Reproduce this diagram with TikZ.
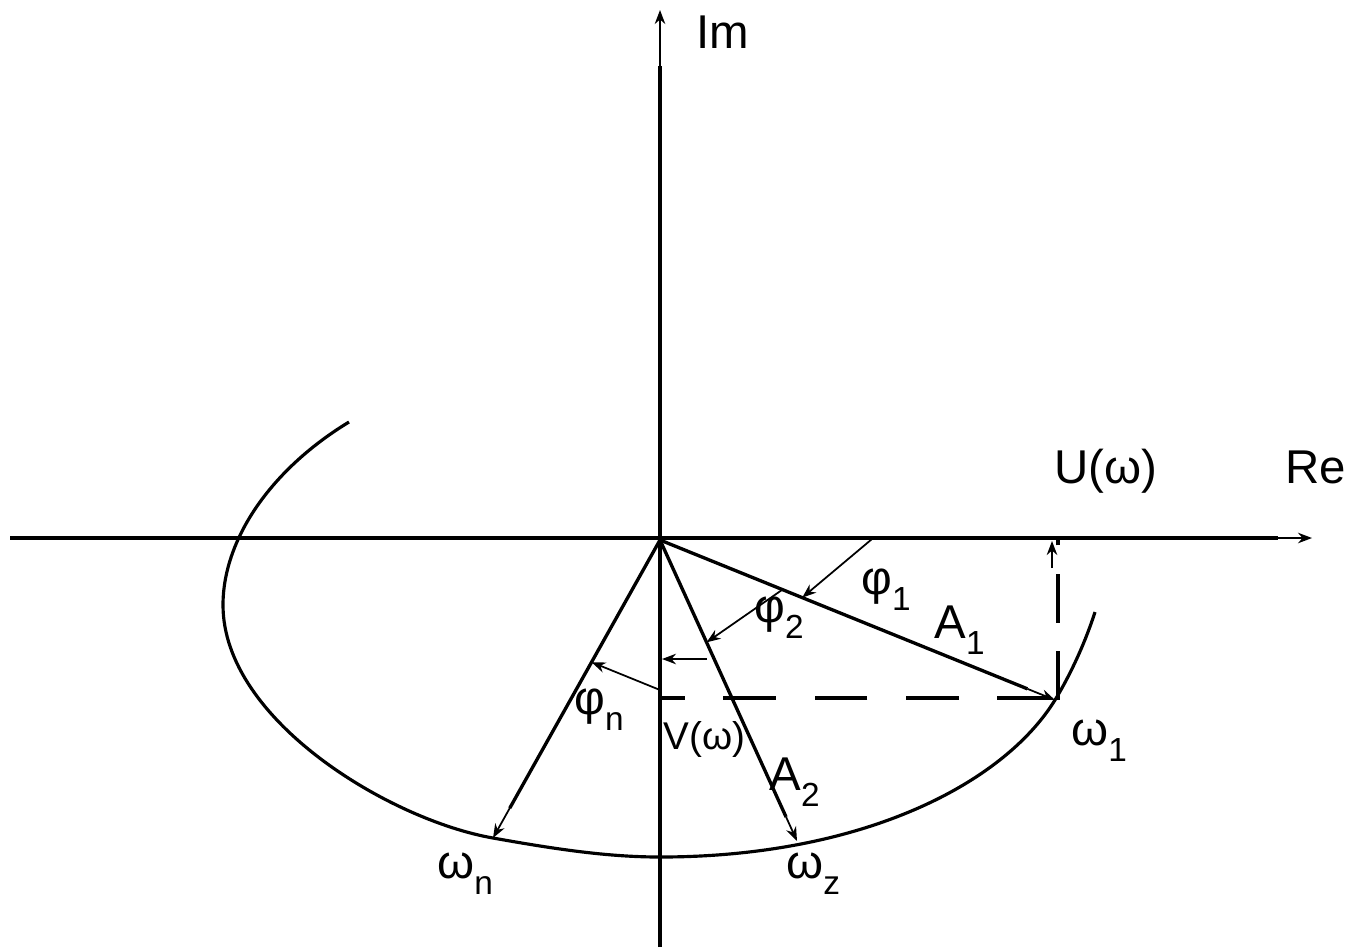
\documentclass[tikz,border=0pt]{standalone}
\usepackage{fontspec}
\setmainfont{Liberation Sans}
\usetikzlibrary{arrows.meta,calc}
\newcommand\lsub[1]{\raisebox{-9.5pt}{\fontsize{19}{19}\selectfont #1}}
\begin{document}
\begin{tikzpicture}[x=0.02cm,y=-0.02cm,
  axisline/.style={line width=2.4pt},
  thinarrow/.style={line width=1pt,-{Stealth[length=8pt,width=6pt]}},
  rayline/.style={line width=1.9pt},
  curveline/.style={line width=1.8pt},
  dashline/.style={line width=1.9pt,dash pattern=on 30pt off 22pt},
  dashline2/.style={line width=1.9pt,dash pattern=on 28pt off 16pt},
  lbl/.style={font=\fontsize{27}{27}\selectfont, inner sep=0pt, anchor=base west},
  smalllbl/.style={font=\fontsize{22}{22}\selectfont, inner sep=0pt, anchor=base west}]
\useasboundingbox (0,0) rectangle (1354,947);
% key points
\coordinate (O) at (660,540);
\coordinate (w1) at (1055,700);
\coordinate (wz) at (797,841);
\coordinate (wn) at (493,838);
% axes
\coordinate (xl) at (10,538);
\coordinate (xm) at (1278,538);
\coordinate (xr) at (1312,538);
\coordinate (yb) at (660,947);
\coordinate (ym) at (660,66);
\coordinate (yt) at (660,10);
\draw[axisline] (xl) -- (xm);
\draw[thinarrow] (xm) -- (xr);
\draw[axisline] (yb) -- (ym);
\draw[thinarrow] (ym) -- (yt);
% curve
\coordinate (cs) at (349,422);
\coordinate (cl) at (223,605);
\coordinate (cb) at (660,857);
\coordinate (ce) at (1095,612);
\draw[curveline] (cs) .. controls (270,470) and (223,540) .. (cl)
  .. controls (223,720) and (390,820) .. (wn)
  .. controls (560,850) and (610,857) .. (cb)
  .. controls (860,857) and (1002.5,785) .. (w1)
  .. controls (1072,672) and (1086,640) .. (ce);
% rays
\draw[rayline] (O) -- ($(O)!0.93!(w1)$) coordinate (w1s);
\draw[thinarrow] (w1s) -- (w1);
\draw[rayline] (O) -- ($(O)!0.92!(wz)$) coordinate (wzs);
\draw[thinarrow] (wzs) -- (wz);
\draw[rayline] (O) -- ($(O)!0.9!(wn)$) coordinate (wns);
\draw[thinarrow] (wns) -- (wn);
% dashed projections
\coordinate (vp) at (662,698);
\coordinate (w1h) at (1050,698);
\draw[dashline] (w1h) -- (vp);
\coordinate (w1v) at (1058,700);
\coordinate (up) at (1058,540);
\draw[dashline2] (w1v) -- (up);
\coordinate (ua) at (1052,568);
\coordinate (ub) at (1052,541);
\draw[thinarrow] (ua) -- (ub);
% angle markers
\coordinate (p1a) at (872,539);
\coordinate (p1b) at ($(O)!0.36!(w1)$);
\draw[thinarrow] (p1a) -- (p1b);
\coordinate (p2a) at ($(O)!0.31!(w1)$);
\coordinate (p2b) at ($(O)!0.34!(wz)$);
\draw[thinarrow] (p2a) -- (p2b);
\coordinate (p3a) at (707,659);
\coordinate (p3b) at (662,659);
\draw[thinarrow] (p3a) -- (p3b);
\coordinate (pna) at (660,690);
\coordinate (pnb) at ($(O)!0.41!(wn)$);
\draw[thinarrow] (pna) -- (pnb);
% labels
\node[lbl] (im) at (696,48) {Im};
\node[lbl] (re) at (1285,483) {Re};
\node[lbl] (u) at (1054,483) {U(ω)};
\node[lbl] (phi1) at (861,594) {φ\lsub{1}};
\node[lbl] (a1) at (934,638) {A\lsub{1}};
\node[lbl] (phi2) at (754,622) {φ\lsub{2}};
\node[lbl] (phin) at (574,714) {φ\lsub{n}};
\node[smalllbl] (v) at (663,749) {V(ω)};
\node[lbl] (a2) at (769,790) {A\lsub{2}};
\node[lbl] (om1) at (1071,745) {ω\lsub{1}};
\node[lbl] (omn) at (437,878) {ω\lsub{n}};
\node[lbl] (omz) at (786,878) {ω\lsub{z}};
\end{tikzpicture}
\end{document}
